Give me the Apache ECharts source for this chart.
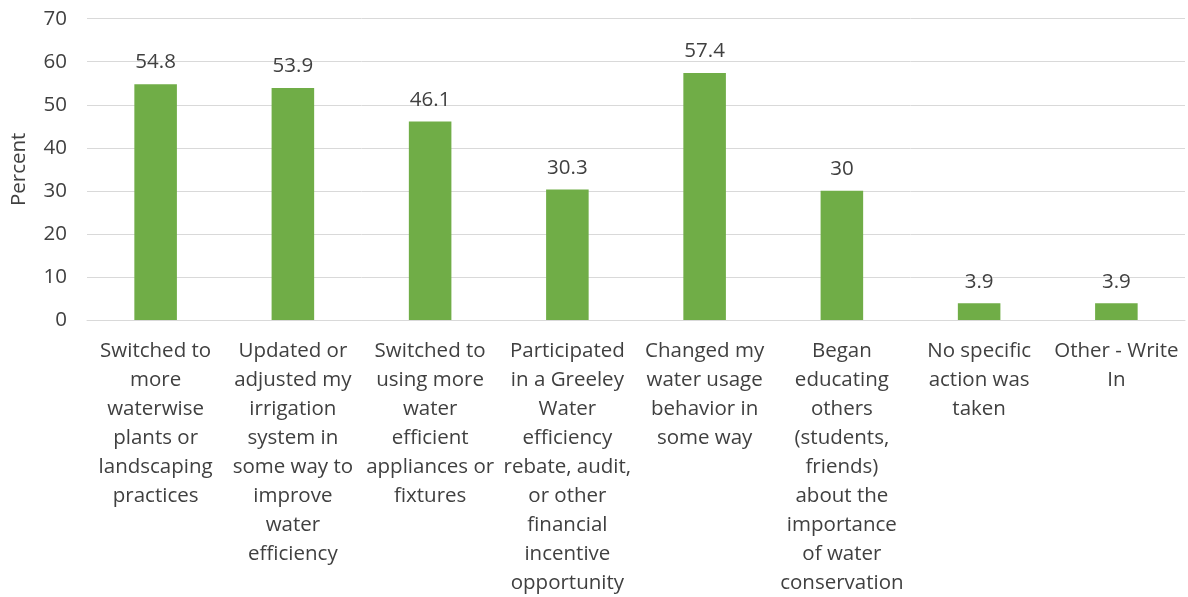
<!DOCTYPE html>
<html>
<head>
<meta charset="utf-8">
<script src="https://cdn.jsdelivr.net/npm/echarts@6/dist/echarts.min.js"></script>
<style>
  html, body { margin: 0; padding: 0; background: #fff; }
  #chart { width: 1188px; height: 597px; }
</style>
</head>
<body>
<div id="chart"></div>
<script>
// categories as wrapped in the original
var categories = [
  'Switched to\nmore\nwaterwise\nplants or\nlandscaping\npractices',
  'Updated or\nadjusted my\nirrigation\nsystem in\nsome way to\nimprove\nwater\nefficiency',
  'Switched to\nusing more\nwater\nefficient\nappliances or\nfixtures',
  'Participated\nin a Greeley\nWater\nefficiency\nrebate, audit,\nor other\nfinancial\nincentive\nopportunity',
  'Changed my\nwater usage\nbehavior in\nsome way',
  'Began\neducating\nothers\n(students,\nfriends)\nabout the\nimportance\nof water\nconservation',
  'No specific\naction was\ntaken',
  'Other - Write\nIn'
]
var percents = [54.8, 53.9, 46.1, 30.3, 57.4, 30, 3.9, 3.9]

var chart = echarts.init(document.getElementById('chart'))
var font = '"Open Sans", sans-serif'
chart.setOption({
  animation: false,
  grid: { left: 87, right: 3, top: 18.7, bottom: 277, outerBoundsMode: 'none', containLabel: false },
  xAxis: {
    type: 'category',
    data: categories,
    axisLine: { lineStyle: { color: '#d9d9d9', width: 1 } },
    axisTick: { show: false },
    axisLabel: {
      interval: 0,
      margin: 17,
      color: '#404040',
      fontSize: 20.5,
      lineHeight: 29,
      fontFamily: font
    }
  },
  yAxis: {
    type: 'value',
    min: 0,
    max: 70,
    interval: 10,
    name: 'Percent',
    nameLocation: 'middle',
    nameGap: 57,
    nameTextStyle: { color: '#404040', fontSize: 20.5, fontFamily: font },
    axisLine: { show: false },
    axisTick: { show: false },
    axisLabel: { margin: 20, color: '#404040', fontSize: 20.5, fontFamily: font },
    splitLine: { lineStyle: { color: '#d9d9d9', width: 1 } }
  },
  series: [
    {
      type: 'bar',
      data: percents,
      barWidth: '31%',
      itemStyle: { color: '#70ad47' },
      label: {
        show: true,
        position: 'top',
        distance: 11,
        color: '#404040',
        fontSize: 20.5,
        fontFamily: font
      }
    }
  ]
})
</script>
</body>
</html>
